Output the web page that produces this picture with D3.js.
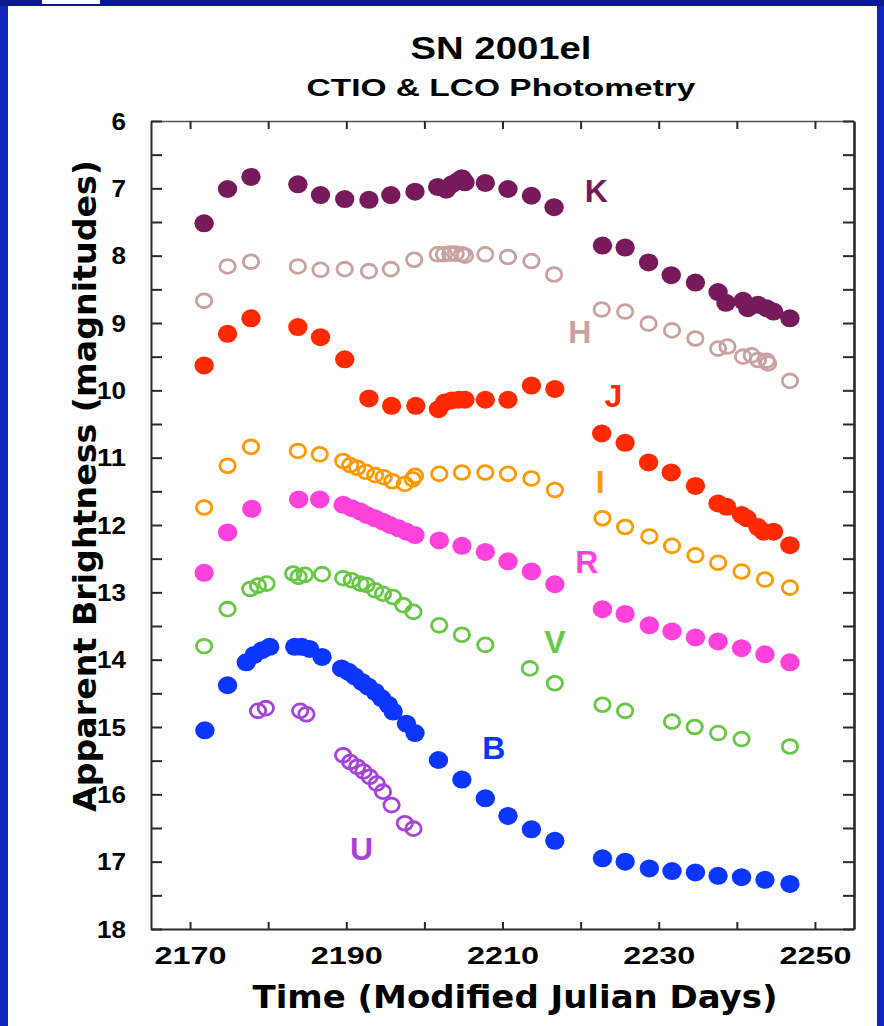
<!DOCTYPE html>
<html>
<head>
<meta charset="utf-8">
<script src="https://cdn.jsdelivr.net/npm/d3@7"></script>
<style>
  html, body { margin: 0; padding: 0; background: #ffffff; }
  svg { display: block; }
</style>
</head>
<body>
<script>
// SN 2001el light curves: [Modified Julian Day, apparent magnitude]
const bandK = [[2171.8,7.52],[2174.8,7.01],[2177.8,6.83],[2183.8,6.94],[2186.7,7.10],[2189.8,7.16],[2192.9,7.17],[2195.7,7.10],[2198.8,7.05],[2201.7,6.98],[2202.8,7.02],[2203.5,6.94],[2204.3,6.89],[2204.8,6.85],[2205.2,6.91],[2207.8,6.92],[2210.7,7.01],[2213.7,7.11],[2216.6,7.28],[2222.8,7.85],[2225.7,7.88],[2228.7,8.10],[2231.6,8.29],[2234.7,8.40],[2237.6,8.54],[2238.6,8.70],[2240.8,8.67],[2241.4,8.78],[2242.7,8.73],[2243.8,8.78],[2244.7,8.83],[2246.8,8.93]];
const bandH = [[2171.8,8.67],[2174.8,8.16],[2177.8,8.09],[2183.8,8.16],[2186.7,8.21],[2189.8,8.20],[2192.9,8.23],[2195.7,8.20],[2198.7,8.06],[2201.7,7.98],[2202.5,7.98],[2203.3,7.97],[2204.0,7.97],[2204.8,7.98],[2205.2,8.00],[2207.8,7.98],[2210.7,8.02],[2213.7,8.08],[2216.6,8.28],[2222.7,8.80],[2225.7,8.83],[2228.7,9.01],[2231.7,9.11],[2234.7,9.23],[2237.6,9.38],[2238.8,9.35],[2240.8,9.50],[2241.9,9.48],[2242.7,9.55],[2243.8,9.56],[2244.0,9.60],[2246.8,9.86]];
const bandJ = [[2171.8,9.63],[2174.8,9.16],[2177.8,8.93],[2183.8,9.06],[2186.7,9.21],[2189.8,9.54],[2192.9,10.12],[2195.8,10.23],[2198.9,10.23],[2201.8,10.28],[2202.6,10.18],[2203.5,10.15],[2204.4,10.14],[2205.2,10.14],[2207.8,10.14],[2210.7,10.14],[2213.7,9.93],[2216.7,9.98],[2222.7,10.64],[2225.7,10.78],[2228.7,11.07],[2231.6,11.22],[2234.7,11.42],[2237.6,11.68],[2238.7,11.73],[2240.6,11.85],[2241.3,11.90],[2242.7,12.03],[2243.4,12.10],[2244.7,12.10],[2246.8,12.30]];
const bandI = [[2171.8,11.74],[2174.8,11.12],[2177.8,10.84],[2183.8,10.90],[2186.6,10.95],[2189.6,11.05],[2190.5,11.11],[2191.4,11.15],[2192.5,11.21],[2193.7,11.26],[2194.8,11.29],[2195.9,11.35],[2197.5,11.39],[2198.5,11.32],[2198.8,11.27],[2201.9,11.24],[2204.8,11.22],[2207.8,11.22],[2210.7,11.24],[2213.7,11.31],[2216.7,11.48],[2222.8,11.90],[2225.7,12.03],[2228.8,12.17],[2231.7,12.31],[2234.7,12.45],[2237.6,12.56],[2240.6,12.69],[2243.6,12.81],[2246.8,12.93]];
const bandR = [[2171.8,12.71],[2174.8,12.11],[2177.9,11.76],[2183.9,11.62],[2186.6,11.62],[2189.6,11.70],[2190.7,11.75],[2191.8,11.80],[2192.6,11.85],[2193.7,11.90],[2194.7,11.95],[2195.6,12.00],[2196.7,12.05],[2197.7,12.10],[2198.8,12.15],[2201.9,12.23],[2204.8,12.31],[2207.8,12.40],[2210.7,12.54],[2213.7,12.69],[2216.7,12.88],[2222.8,13.25],[2225.7,13.32],[2228.8,13.49],[2231.7,13.58],[2234.7,13.67],[2237.6,13.73],[2240.6,13.83],[2243.6,13.92],[2246.8,14.04]];
const bandV = [[2171.8,13.80],[2174.8,13.25],[2177.7,12.95],[2178.7,12.90],[2179.8,12.87],[2183.2,12.72],[2183.9,12.77],[2184.7,12.74],[2186.9,12.73],[2189.6,12.79],[2190.7,12.82],[2191.8,12.87],[2192.6,12.89],[2193.7,12.97],[2194.7,13.02],[2196.0,13.07],[2197.3,13.19],[2198.6,13.29],[2201.9,13.49],[2204.8,13.63],[2207.8,13.78],[2213.5,14.13],[2216.7,14.35],[2222.8,14.67],[2225.7,14.76],[2231.7,14.92],[2234.6,15.00],[2237.6,15.09],[2240.6,15.18],[2246.8,15.29]];
const bandB = [[2171.9,15.05],[2174.8,14.38],[2177.2,14.04],[2178.2,13.93],[2179.2,13.86],[2180.2,13.81],[2183.4,13.81],[2184.3,13.81],[2185.3,13.84],[2186.9,13.96],[2189.4,14.13],[2190.3,14.18],[2191.1,14.25],[2192.0,14.33],[2192.8,14.40],[2193.7,14.48],[2194.5,14.57],[2195.4,14.67],[2196.0,14.77],[2197.7,14.95],[2198.8,15.09],[2201.8,15.49],[2204.8,15.78],[2207.8,16.06],[2210.7,16.32],[2213.7,16.52],[2216.7,16.69],[2222.8,16.95],[2225.7,17.00],[2228.8,17.10],[2231.7,17.14],[2234.7,17.16],[2237.6,17.21],[2240.6,17.23],[2243.6,17.27],[2246.8,17.33]];
const bandU = [[2178.7,14.76],[2179.7,14.72],[2184.1,14.76],[2184.9,14.81],[2189.6,15.42],[2190.5,15.52],[2191.4,15.59],[2192.2,15.66],[2193.0,15.74],[2193.9,15.84],[2194.7,15.96],[2195.8,16.16],[2197.5,16.43],[2198.6,16.51]];

// Band names and where each name is written (text baseline), in [day, magnitude]
const bandNames = ["K", "H", "J", "I", "R", "V", "B", "U"];
const nameAnchors = [[2222.0,7.20],[2219.9,9.30],[2224.2,10.25],[2222.5,11.52],[2220.8,12.71],[2216.7,13.90],[2208.9,15.48],[2191.95,16.98]];

// Axis ticks
const dayTicks = [2170, 2180, 2190, 2200, 2210, 2220, 2230, 2240, 2250];
const dayLabels = [2170, 2190, 2210, 2230, 2250];
const magTicks = [6, 6.5, 7, 7.5, 8, 8.5, 9, 9.5, 10, 10.5, 11, 11.5, 12, 12.5, 13, 13.5, 14, 14.5, 15, 15.5, 16, 16.5, 17, 17.5, 18];
const magLabels = [6, 7, 8, 9, 10, 11, 12, 13, 14, 15, 16, 17, 18];

const W = 884, H = 1026;
const plotLeft = 151, plotRight = 854, plotTop = 121, plotBottom = 929;

const bandStyle = {
  K: { color: "#771a5c", filled: true },
  H: { color: "#c9a1a1", filled: false },
  J: { color: "#ff2a00", filled: true },
  I: { color: "#ff9900", filled: false },
  R: { color: "#ff42dc", filled: true },
  V: { color: "#66c844", filled: false },
  B: { color: "#0a36ff", filled: true },
  U: { color: "#a744d8", filled: false }
};
const bandData = { K: bandK, H: bandH, J: bandJ, I: bandI, R: bandR, V: bandV, B: bandB, U: bandU };

const svg = d3.select("body").append("svg")
  .attr("width", W).attr("height", H)
  .attr("viewBox", `0 0 ${W} ${H}`);

svg.append("rect").attr("width", W).attr("height", H).attr("fill", "#ffffff");

// slide frame
svg.append("rect").attr("x", 0).attr("y", 0).attr("width", 8).attr("height", H).attr("fill", "#0f25bd");
svg.append("rect").attr("x", W - 7).attr("y", 0).attr("width", 7).attr("height", H).attr("fill", "#0f25bd");
svg.append("rect").attr("x", 0).attr("y", 0).attr("width", W).attr("height", 6).attr("fill", "#0a1a8e");
svg.append("rect").attr("x", 42).attr("y", 0).attr("width", 58).attr("height", 4).attr("fill", "#ffffff");

const x = d3.scaleLinear().domain([2165, 2255]).range([plotLeft, plotRight]);
const y = d3.scaleLinear().domain([6, 18]).range([plotTop, plotBottom]);

const helv = "'Liberation Sans', Arial, Helvetica, sans-serif";
const verd = "'DejaVu Sans', Verdana, sans-serif";

// titles
svg.append("text")
  .attr("x", 501).attr("y", 59)
  .attr("text-anchor", "middle")
  .attr("font-family", helv).attr("font-weight", "bold").attr("font-size", 32)
  .attr("textLength", 181).attr("lengthAdjust", "spacingAndGlyphs")
  .attr("fill", "#000")
  .text("SN 2001el");
svg.append("text")
  .attr("x", 501).attr("y", 96)
  .attr("text-anchor", "middle")
  .attr("font-family", helv).attr("font-weight", "bold").attr("font-size", 24.5)
  .attr("textLength", 389).attr("lengthAdjust", "spacingAndGlyphs")
  .attr("fill", "#000")
  .text("CTIO & LCO Photometry");

// axes: a closed box with inward ticks
const axisColor = "#2a2a2a";
function styleAxis(g) {
  g.select(".domain").attr("stroke", axisColor).attr("stroke-width", 2);
  g.selectAll(".tick line").attr("stroke", axisColor).attr("stroke-width", 2);
  g.selectAll(".tick text")
    .attr("fill", "#000")
    .attr("font-family", helv).attr("font-weight", "bold").attr("font-size", 23);
}

const gBottom = svg.append("g").attr("transform", `translate(0,${plotBottom})`)
  .call(d3.axisBottom(x).tickValues(dayTicks).tickSize(-7).tickSizeOuter(0)
    .tickFormat(d => dayLabels.includes(d) ? String(d) : ""));
styleAxis(gBottom);
gBottom.selectAll(".tick text")
  .attr("y", 35).attr("dy", null)
  .each(function() {
    if (this.textContent) d3.select(this).attr("textLength", 72).attr("lengthAdjust", "spacingAndGlyphs");
  });

const gTop = svg.append("g").attr("transform", `translate(0,${plotTop})`)
  .call(d3.axisTop(x).tickValues(dayTicks).tickSize(-8).tickSizeOuter(0).tickFormat(""));
styleAxis(gTop);
gTop.select(".domain").attr("stroke", "#555").attr("stroke-width", 1.6);

const gLeft = svg.append("g").attr("transform", `translate(${plotLeft},0)`)
  .call(d3.axisLeft(y).tickValues(magTicks).tickSize(-11).tickSizeOuter(0)
    .tickFormat(d => magLabels.includes(d) ? String(d) : ""));
styleAxis(gLeft);
gLeft.selectAll(".tick text")
  .attr("x", -25).attr("dy", "0.36em")
  .each(function() {
    const t = this.textContent;
    if (t) d3.select(this).attr("textLength", t.length * 14.5).attr("lengthAdjust", "spacingAndGlyphs");
  });

const gRight = svg.append("g").attr("transform", `translate(${plotRight},0)`)
  .call(d3.axisRight(y).tickValues(magTicks).tickSize(-11).tickSizeOuter(0).tickFormat(""));
styleAxis(gRight);
gRight.select(".domain").attr("stroke-width", 2.6);

// axis titles
svg.append("text")
  .attr("x", 515).attr("y", 1008)
  .attr("text-anchor", "middle")
  .attr("font-family", verd).attr("font-weight", "bold").attr("font-size", 32)
  .attr("textLength", 525).attr("lengthAdjust", "spacingAndGlyphs")
  .attr("fill", "#000")
  .text("Time (Modified Julian Days)");
svg.append("text")
  .attr("transform", "translate(96,486) rotate(-90)")
  .attr("text-anchor", "middle")
  .attr("font-family", verd).attr("font-weight", "bold").attr("font-size", 32)
  .attr("textLength", 652).attr("lengthAdjust", "spacingAndGlyphs")
  .attr("fill", "#000")
  .text("Apparent Brightness (magnitudes)");

// photometry points
const plot = svg.append("g");
bandNames.forEach(b => {
  const st = bandStyle[b];
  const sel = plot.append("g").attr("class", "band-" + b)
    .selectAll("ellipse").data(bandData[b]).join("ellipse")
    .attr("cx", d => x(d[0]))
    .attr("cy", d => y(d[1]));
  if (st.filled) {
    sel.attr("rx", 9.7).attr("ry", 9).attr("fill", st.color);
  } else {
    sel.attr("rx", 7.7).attr("ry", 6.9).attr("fill", "none")
      .attr("stroke", st.color).attr("stroke-width", 2.8);
  }
});

// band names
svg.append("g").selectAll("text").data(bandNames).join("text")
  .attr("x", (b, i) => x(nameAnchors[i][0]))
  .attr("y", (b, i) => y(nameAnchors[i][1]))
  .attr("text-anchor", "middle")
  .attr("font-family", helv).attr("font-weight", "bold").attr("font-size", 32)
  .attr("fill", b => bandStyle[b].color)
  .text(b => b);
</script>
</body>
</html>
